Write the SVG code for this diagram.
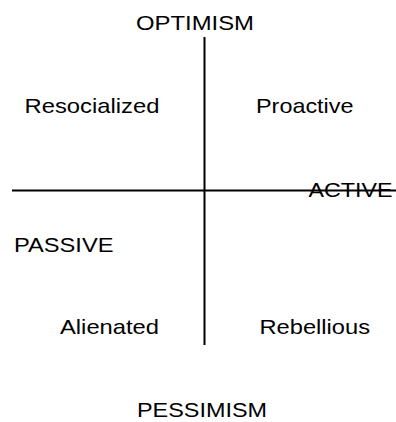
<svg xmlns="http://www.w3.org/2000/svg" width="396" height="422" viewBox="0 0 396 422">
  <style>
    .lbl { font-family: "Liberation Sans", Arial, sans-serif; font-size: 21px; fill: #000; }
    .axis { stroke: #000; stroke-width: 2; fill: none; }
  </style>
  <rect width="396" height="422" fill="#fff"/>
  <g id="connectors">
    <line class="axis" x1="204.5" y1="37" x2="204.5" y2="345"/>
    <line class="axis" x1="12" y1="190.5" x2="396" y2="190.5"/>
  </g>
  <g id="optimism"><text class="lbl" x="136" y="30" textLength="118" lengthAdjust="spacingAndGlyphs">OPTIMISM</text></g>
  <g id="resocialized"><text class="lbl" x="24.5" y="113" textLength="135" lengthAdjust="spacingAndGlyphs">Resocialized</text></g>
  <g id="proactive"><text class="lbl" x="256" y="113" textLength="97.5" lengthAdjust="spacingAndGlyphs">Proactive</text></g>
  <g id="active"><text class="lbl" x="308.5" y="197" textLength="84" lengthAdjust="spacingAndGlyphs">ACTIVE</text></g>
  <g id="passive"><text class="lbl" x="14" y="252" textLength="99.5" lengthAdjust="spacingAndGlyphs">PASSIVE</text></g>
  <g id="alienated"><text class="lbl" x="60" y="334" textLength="99" lengthAdjust="spacingAndGlyphs">Alienated</text></g>
  <g id="rebellious"><text class="lbl" x="259.5" y="334" textLength="110.5" lengthAdjust="spacingAndGlyphs">Rebellious</text></g>
  <g id="pessimism"><text class="lbl" x="137" y="417" textLength="130" lengthAdjust="spacingAndGlyphs">PESSIMISM</text></g>
</svg>
